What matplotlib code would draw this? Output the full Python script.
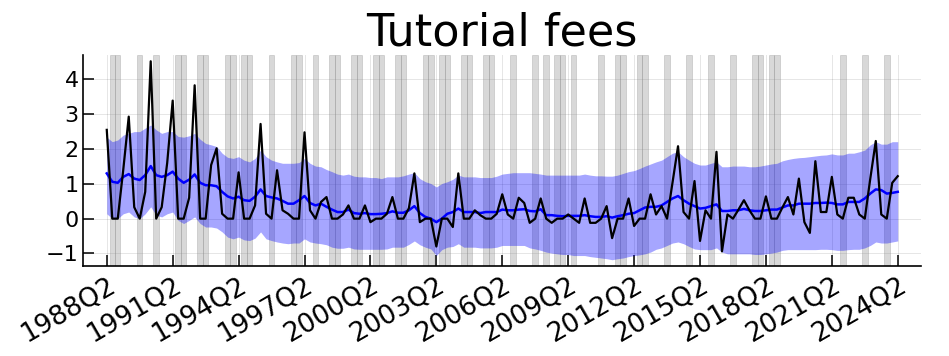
import numpy as np
import matplotlib
matplotlib.use("Agg")
import matplotlib.pyplot as plt

# quarterly values, 1988Q2 .. 2024Q2
tutorial = [
    2.55, 0, 0, 1.40, 2.93, 0.33, 0, 0.77, 4.52, 0, 0.33, 1.60, 3.39, 0, 0, 0.60, 3.83, 0, 0, 1.54,
    2.02, 0.14, 0, 0, 1.33, 0, 0, 0.38, 2.72, 0.14, 0, 1.39, 0.24, 0.14, 0, 0, 2.48, 0.24, 0, 0.48,
    0.62, 0, 0, 0.12, 0.38, 0, 0, 0.38, -0.10, 0, 0, 0.14, 0.62, 0, 0, 0.30, 1.30, -0.10, 0, 0,
    -0.80, 0, 0, -0.24, 1.30, 0, 0, 0.24, 0.10, 0, 0, 0.14, 0.70, 0.12, 0, 0.60, 0.45, -0.12, 0, 0.58,
    0, -0.12, 0, 0, 0.12, 0, -0.12, 0.58, -0.12, -0.12, 0, 0.36, -0.56, 0, 0, 0.58, -0.21, 0, 0, 0.70,
    0.12, 0.36, 0, 1.05, 2.08, 0.19, 0, 1.08, -0.64, 0.24, 0, 1.92, -0.94, 0.12, 0, 0.26, 0.53, 0.24, 0, 0,
    0.64, 0, 0, 0.32, 0.62, 0.12, 1.15, -0.10, -0.41, 1.65, 0.19, 0.19, 1.20, 0.12, 0, 0.60, 0.60, 0.12,
    0, 1.15, 2.23, 0.12, 0, 1.03, 1.22,
]

trend = [
    1.30, 1.06, 1.03, 1.20, 1.28, 1.15, 1.11, 1.25, 1.51, 1.25, 1.20, 1.25, 1.35, 1.15, 1.03, 1.12, 1.27, 1.03, 0.96, 0.96,
    0.93, 0.77, 0.64, 0.58, 0.63, 0.53, 0.51, 0.63, 0.84, 0.65, 0.61, 0.58, 0.51, 0.43, 0.43, 0.53, 0.65, 0.45, 0.38, 0.43,
    0.34, 0.26, 0.19, 0.19, 0.26, 0.16, 0.14, 0.16, 0.13, 0.13, 0.14, 0.16, 0.21, 0.17, 0.17, 0.24, 0.36, 0.16, 0.05, 0.00,
    -0.10, 0.00, 0.14, 0.19, 0.29, 0.19, 0.19, 0.19, 0.16, 0.19, 0.19, 0.19, 0.26, 0.24, 0.24, 0.26, 0.27, 0.22, 0.21, 0.27,
    0.10, 0.10, 0.08, 0.07, 0.08, 0.08, 0.08, 0.10, 0.07, 0.05, 0.05, 0.07, 0.03, 0.07, 0.10, 0.14, 0.16, 0.24, 0.32, 0.34,
    0.34, 0.38, 0.48, 0.58, 0.65, 0.53, 0.43, 0.36, 0.29, 0.31, 0.36, 0.41, 0.22, 0.22, 0.24, 0.24, 0.28, 0.24, 0.22, 0.22,
    0.24, 0.26, 0.26, 0.32, 0.38, 0.38, 0.43, 0.43, 0.43, 0.45, 0.45, 0.46, 0.45, 0.41, 0.41, 0.48, 0.48, 0.48,
    0.58, 0.72, 0.84, 0.82, 0.72, 0.74, 0.77,
]

upper = [
    2.34, 2.21, 2.26, 2.40, 2.45, 2.50, 2.50, 2.60, 2.69, 2.55, 2.45, 2.50, 2.50, 2.36, 2.34, 2.38, 2.45, 2.28, 2.16, 2.12,
    2.07, 1.88, 1.76, 1.73, 1.78, 1.68, 1.63, 1.73, 1.97, 1.78, 1.68, 1.63, 1.59, 1.59, 1.59, 1.61, 1.73, 1.59, 1.51, 1.49,
    1.41, 1.35, 1.28, 1.25, 1.28, 1.22, 1.20, 1.20, 1.18, 1.18, 1.15, 1.20, 1.20, 1.20, 1.23, 1.28, 1.32, 1.15, 1.06, 1.01,
    0.91, 1.01, 1.06, 1.13, 1.25, 1.20, 1.20, 1.20, 1.18, 1.18, 1.18, 1.22, 1.28, 1.30, 1.32, 1.32, 1.32, 1.32, 1.30, 1.28,
    1.25, 1.25, 1.25, 1.25, 1.25, 1.25, 1.25, 1.28, 1.25, 1.23, 1.23, 1.22, 1.22, 1.25, 1.30, 1.35, 1.38, 1.44, 1.51, 1.57,
    1.63, 1.68, 1.78, 1.88, 1.92, 1.78, 1.68, 1.59, 1.54, 1.54, 1.59, 1.63, 1.49, 1.49, 1.51, 1.51, 1.51, 1.49, 1.49, 1.51,
    1.54, 1.57, 1.59, 1.66, 1.70, 1.73, 1.75, 1.76, 1.78, 1.80, 1.82, 1.83, 1.86, 1.83, 1.83, 1.88, 1.88, 1.92,
    1.97, 2.12, 2.21, 2.14, 2.14, 2.21, 2.21,
]

lower = [
    0.14, 0.00, 0.00, 0.14, 0.19, 0.05, 0.00, 0.14, 0.34, 0.10, 0.05, 0.14, 0.19, -0.05, -0.14, -0.05, 0.05, -0.14, -0.24, -0.24,
    -0.27, -0.38, -0.53, -0.58, -0.53, -0.61, -0.63, -0.56, -0.38, -0.58, -0.63, -0.67, -0.70, -0.72, -0.70, -0.70, -0.58, -0.67, -0.70, -0.72,
    -0.75, -0.82, -0.85, -0.85, -0.82, -0.87, -0.88, -0.88, -0.88, -0.88, -0.88, -0.87, -0.82, -0.82, -0.82, -0.74, -0.64, -0.75, -0.82, -0.87,
    -1.06, -0.89, -0.82, -0.80, -0.72, -0.82, -0.82, -0.82, -0.84, -0.84, -0.84, -0.82, -0.77, -0.77, -0.77, -0.77, -0.77, -0.84, -0.87, -0.91,
    -0.96, -0.99, -1.01, -1.03, -1.03, -1.06, -1.06, -1.06, -1.09, -1.11, -1.13, -1.15, -1.18, -1.15, -1.13, -1.09, -1.06, -1.04, -1.01, -0.96,
    -0.88, -0.84, -0.77, -0.70, -0.67, -0.72, -0.80, -0.87, -0.89, -0.89, -0.89, -0.84, -0.96, -1.01, -1.01, -1.01, -1.01, -1.01, -1.03, -1.03,
    -1.01, -0.99, -0.96, -0.91, -0.89, -0.89, -0.89, -0.89, -0.89, -0.89, -0.88, -0.88, -0.89, -0.91, -0.91, -0.89, -0.88, -0.88,
    -0.84, -0.77, -0.67, -0.70, -0.70, -0.67, -0.64,
]

tick_labels = ['1988Q2', '1991Q2', '1994Q2', '1997Q2', '2000Q2', '2003Q2', '2006Q2',
               '2009Q2', '2012Q2', '2015Q2', '2018Q2', '2021Q2', '2024Q2']

tutorial = np.array(tutorial)
x = np.arange(len(tutorial))

plt.rcParams['font.family'] = ['DejaVu Sans']

fig = plt.figure(figsize=(9.49, 3.56), dpi=100)
ax = fig.add_axes([0.0875, 0.2528, 0.8835, 0.5927])

# shade the quarters with no change
for k in x[tutorial == 0]:
    ax.axvspan(k - 0.5, k + 0.5, facecolor='gray', edgecolor='gray', alpha=0.3, lw=0.6, zorder=1)

ax.fill_between(x, lower, upper, color='blue', alpha=0.35, lw=0, zorder=2)
ax.plot(x, trend, color='blue', lw=1.8, zorder=3)
ax.plot(x, tutorial, color='black', lw=1.6, zorder=4)

ax.set_xlim(-4.32, len(x) - 1 + 4.32)
ax.set_ylim(-1.36, 4.7)
ax.set_yticks([-1, 0, 1, 2, 3, 4])
ax.set_yticklabels(['\u22121', '0', '1', '2', '3', '4'], fontsize=16)
ax.set_xticks(x[::12])
ax.set_xticklabels(tick_labels, rotation=30, ha='right', rotation_mode='anchor', fontsize=19)

ax.grid(True, color='black', alpha=0.1, lw=0.7)
ax.set_axisbelow(True)
for side in ['top', 'right']:
    ax.spines[side].set_visible(False)
for side in ['left', 'bottom']:
    ax.spines[side].set_linewidth(1.2)
ax.tick_params(direction='in', length=8, width=1.1)
ax.tick_params(axis='y', pad=3)
ax.tick_params(axis='x', pad=5)

ax.set_title('Tutorial fees', fontsize=32, pad=7)

fig.savefig('out.png', dpi=100)
